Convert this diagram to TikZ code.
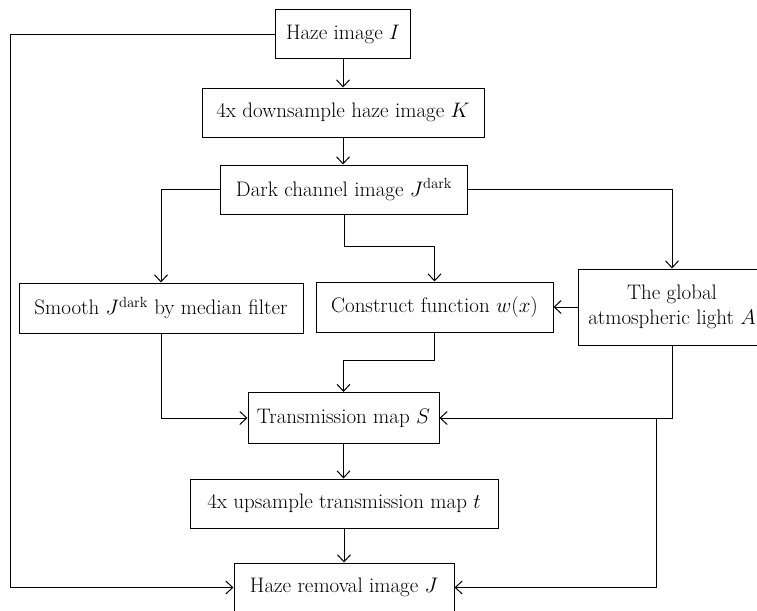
\RequirePackage{fix-cm}
\documentclass[tikz,border=0pt]{standalone}
\usetikzlibrary{arrows.meta}
\begin{document}
\begin{tikzpicture}[x=1pt,y=-1pt,
  every node/.style={font=\fontsize{21}{25.5}\selectfont},
  blk/.style={draw, line width=1pt, minimum height=49pt, inner sep=0pt, align=center},
  conn/.style={line width=1pt, -{Straight Barb[length=7pt,width=13pt,line width=1pt]}}]
\useasboundingbox (0,0) rectangle (757,610);

% processing blocks
\node[blk, minimum width=135pt] (haze)      at (343,34.5)  {Haze image $I$};
\node[blk, minimum width=282pt] (down)      at (343,112.5) {4x downsample haze image $K$};
\node[blk, minimum width=247pt] (dark)      at (344,189.5) {Dark channel image $J^{\mathrm{dark}}$};
\node[blk, minimum width=284pt, minimum height=50pt] (smooth) at (161,308) {Smooth $J^{\mathrm{dark}}$ by median filter};
\node[blk, minimum width=237pt, minimum height=50pt] (construct) at (434.5,307) {Construct function $w(x)$};
\node[blk, minimum width=188pt, minimum height=76pt, align=center] (atmo) at (672,307) {The global\\atmospheric light $A$};
\node[blk, minimum width=191pt, minimum height=51pt] (trans) at (343.5,418) {Transmission map $S$};
\node[blk, minimum width=308pt] (up)        at (344,503.5) {4x upsample transmission map $t$};
\node[blk, minimum width=220pt] (removal)   at (344,587.5) {Haze removal image $J$};

% routing columns
\coordinate (lft) at (10,0);
\coordinate (rgt) at (656,0);

% connectors
\draw[conn] (haze.west) -- (haze.west -| lft) |- (removal.west);
\draw[conn] (haze.south) -- (haze.south |- down.north);
\draw[conn] (down.south) -- (down.south |- dark.north);
\draw[conn] (dark.west) -| (smooth.north);
\draw[conn] (dark.south) -- ++(0,32) -| (construct.north);
\draw[conn] (dark.east) -| (atmo.north);
\draw[conn] (atmo.west) -- (construct.east);
\draw[conn] (construct.south) -- ++(0,28) -| (trans.north);
\draw[conn] (smooth.south) |- (trans.west);
\draw[conn] (atmo.south) |- (trans.east);
\draw[conn] (rgt |- trans.east) |- (removal.east);
\draw[conn] (trans.south) -- (trans.south |- up.north);
\draw[conn] (up.south) -- (up.south |- removal.north);
\end{tikzpicture}
\end{document}
